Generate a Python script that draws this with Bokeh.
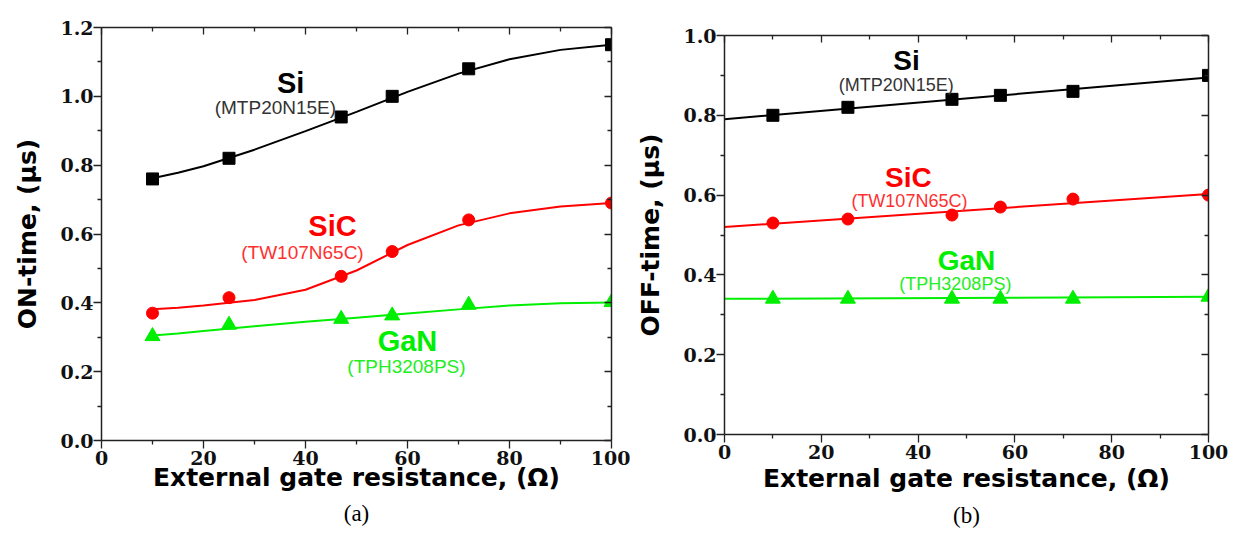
from bokeh.plotting import figure
from bokeh.layouts import row, column
from bokeh.models import (LinearAxis, FixedTicker, PrintfTickFormatter, Label, Range1d, Title)
from bokeh.embed import file_html
from bokeh.resources import INLINE

# ---------------- data ----------------
# (a) ON-time measurements
r_on = [10, 25, 47, 57, 72, 100]
si_on = [0.76, 0.82, 0.94, 1.00, 1.08, 1.15]
sic_on = [0.37, 0.415, 0.477, 0.549, 0.641, 0.69]
gan_on = [0.303, 0.336, 0.353, 0.363, 0.394, 0.402]
# fitted curves
fit_x_on = [10, 15, 20, 30, 40, 50, 60, 70, 80, 90, 100]
si_fit_on = [0.762, 0.778, 0.797, 0.845, 0.899, 0.955, 1.013, 1.066, 1.108, 1.135, 1.150]
sic_fit_on = [0.381, 0.386, 0.392, 0.408, 0.438, 0.494, 0.568, 0.625, 0.660, 0.680, 0.690]
gan_fit_on = [0.305, 0.311, 0.318, 0.332, 0.345, 0.357, 0.369, 0.381, 0.392, 0.399, 0.401]

# (b) OFF-time measurements
r_off = [10, 25.5, 47, 57, 72, 100]
si_off = [0.80, 0.82, 0.84, 0.85, 0.86, 0.90]
sic_off = [0.53, 0.54, 0.55, 0.57, 0.59, 0.60]
gan_off = [0.34, 0.34, 0.34, 0.34, 0.34, 0.345]
fit_x_off = [0, 100]
si_fit_off = [0.79, 0.895]
sic_fit_off = [0.52, 0.603]
gan_fit_off = [0.34, 0.345]

x_ticks = [0, 20, 40, 60, 80, 100]
x_minor = [10, 30, 50, 70, 90]
y_ticks_on = [0.0, 0.2, 0.4, 0.6, 0.8, 1.0, 1.2]
y_minor_on = [0.1, 0.3, 0.5, 0.7, 0.9, 1.1]
y_ticks_off = [0.0, 0.2, 0.4, 0.6, 0.8, 1.0]
y_minor_off = [0.1, 0.3, 0.5, 0.7, 0.9]

names = ["Si", "SiC", "GaN"]
parts = ["(MTP20N15E)", "(TW107N65C)", "(TPH3208PS)"]
x_title = "External gate resistance, (\u03a9)"
y_title_on = "ON-time, (\u03bcs)"
y_title_off = "OFF-time, (\u03bcs)"
captions = ["(a)", "(b)"]

BLACK = "#000000"
RED = "#ff0000"
GREEN = "#00ee00"
SUB = ["#333333", "#ff3030", "#22ee22"]
MAIN = [BLACK, RED, GREEN]
AXC = "#222222"


def style_ticks(ax):
    ax.axis_line_color = AXC
    ax.axis_line_width = 1.5
    ax.major_tick_line_color = AXC
    ax.minor_tick_line_color = AXC
    ax.major_tick_line_width = 1.3
    ax.minor_tick_line_width = 1.3


def make_fig(ymax, yt, ym, ytitle, fw, fh, bl, br, bt, bb,
             caption, cap_off, cap_sd, ylab_sd, xlab_sd):
    p = figure(frame_width=fw, frame_height=fh,
               x_range=Range1d(0, 100), y_range=Range1d(0, ymax),
               output_backend="svg", toolbar_location=None,
               min_border_left=bl, min_border_right=br,
               min_border_top=bt, min_border_bottom=bb)
    p.xgrid.visible = False
    p.ygrid.visible = False
    p.outline_line_color = None
    xt = FixedTicker(ticks=x_ticks, minor_ticks=x_minor)
    ytk = FixedTicker(ticks=yt, minor_ticks=ym)
    for ax in p.xaxis:
        ax.ticker = xt
        ax.axis_label = x_title
        ax.axis_label_text_font = "DejaVu Sans"
        ax.axis_label_text_font_style = "bold"
        ax.axis_label_text_font_size = "25px"
        ax.axis_label_standoff = xlab_sd
        ax.major_label_text_font = "DejaVu Serif"
        ax.major_label_text_font_style = "bold"
        ax.major_label_text_font_size = "19px"
        ax.major_label_standoff = 2
    for ax in p.yaxis:
        ax.ticker = ytk
        ax.formatter = PrintfTickFormatter(format="%.1f")
        ax.axis_label = ytitle
        ax.axis_label_text_font = "DejaVu Sans"
        ax.axis_label_text_font_style = "bold"
        ax.axis_label_text_font_size = "25px"
        ax.axis_label_standoff = ylab_sd
        ax.major_label_text_font = "DejaVu Serif"
        ax.major_label_text_font_style = "bold"
        ax.major_label_text_font_size = "19px"
        ax.major_label_standoff = 0
    for ax in list(p.xaxis) + list(p.yaxis):
        style_ticks(ax)
        ax.major_tick_out = 8
        ax.major_tick_in = 0
        ax.minor_tick_out = 4
        ax.minor_tick_in = 0
        ax.axis_label_text_color = "#000000"
        ax.major_label_text_color = "#111111"
    top = LinearAxis(ticker=xt)
    right = LinearAxis(ticker=ytk)
    for ax in (top, right):
        style_ticks(ax)
        ax.major_tick_in = 7
        ax.major_tick_out = 0
        ax.minor_tick_in = 4
        ax.minor_tick_out = 0
        ax.major_label_text_font_size = "1px"
        ax.major_label_text_color = None
        ax.major_label_standoff = 0
    p.add_layout(top, "above")
    p.add_layout(right, "right")
    p.add_layout(Title(text=caption, align="center", offset=cap_off,
                       text_font="Liberation Serif", text_font_style="normal",
                       text_font_size="23px", text_color="#000000",
                       standoff=cap_sd), "below")
    return p


# ---------- panel (a) ----------
pa = make_fig(1.2, y_ticks_on, y_minor_on, y_title_on, 510, 413,
              101, 19, 27, 95, captions[0], -29, 9, 15, -5)
pa.line(fit_x_on, si_fit_on, line_color=BLACK, line_width=2)
pa.line(fit_x_on, sic_fit_on, line_color=RED, line_width=2)
pa.line(fit_x_on, gan_fit_on, line_color=GREEN, line_width=2)
pa.scatter(r_on, si_on, marker="square", size=12, color=BLACK)
pa.scatter(r_on, sic_on, marker="circle", size=12, color=RED)
pa.scatter(r_on, gan_on, marker="triangle", size=15, color=GREEN)

pos_a_main = [(37.1, 1.040), (45.3, 0.622), (60.0, 0.288)]
pos_a_sub = [(34.1, 0.967), (39.4, 0.546), (59.8, 0.215)]
for i in range(3):
    pa.add_layout(Label(x=pos_a_main[i][0], y=pos_a_main[i][1], text=names[i],
                        text_font="Liberation Sans", text_font_style="bold",
                        text_font_size="29px", text_color=MAIN[i],
                        text_align="center", text_baseline="middle"))
    pa.add_layout(Label(x=pos_a_sub[i][0], y=pos_a_sub[i][1], text=parts[i],
                        text_font="Liberation Sans", text_font_size="19px",
                        text_color=SUB[i], text_align="center",
                        text_baseline="middle"))

# ---------- panel (b) ----------
pb = make_fig(1.0, y_ticks_off, y_minor_off, y_title_off, 484, 399,
              94, 28, 35, 101, captions[1], -19, 11, 15, 2)
pb.line(fit_x_off, si_fit_off, line_color=BLACK, line_width=2)
pb.line(fit_x_off, sic_fit_off, line_color=RED, line_width=2)
pb.line(fit_x_off, gan_fit_off, line_color=GREEN, line_width=2)
pb.scatter(r_off, si_off, marker="square", size=12, color=BLACK)
pb.scatter(r_off, sic_off, marker="circle", size=12, color=RED)
pb.scatter(r_off, gan_off, marker="triangle", size=15, color=GREEN)

pos_b_main = [(37.6, 0.937), (38.0, 0.644), (50.0, 0.436)]
pos_b_sub = [(35.5, 0.877), (38.2, 0.586), (47.7, 0.378)]
for i in range(3):
    pb.add_layout(Label(x=pos_b_main[i][0], y=pos_b_main[i][1], text=names[i],
                        text_font="Liberation Sans", text_font_style="bold",
                        text_font_size="28px", text_color=MAIN[i],
                        text_align="center", text_baseline="middle"))
    pb.add_layout(Label(x=pos_b_sub[i][0], y=pos_b_sub[i][1], text=parts[i],
                        text_font="Liberation Sans", text_font_size="18px",
                        text_color=SUB[i], text_align="center",
                        text_baseline="middle"))

layout = row(column(pa), column(pb), spacing=0)
open("out.html", "w").write(file_html(layout, INLINE))
